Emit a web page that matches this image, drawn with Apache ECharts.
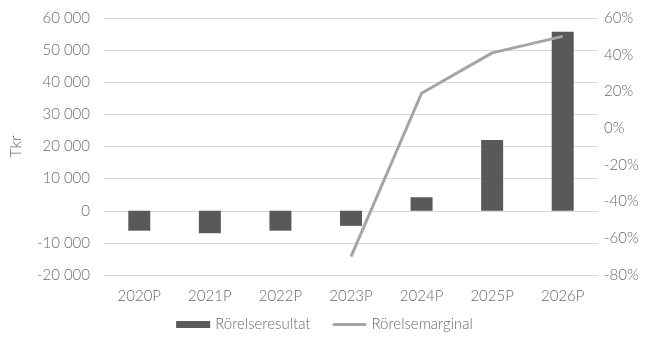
<!DOCTYPE html>
<html><head><meta charset="utf-8">
<script src="https://cdn.jsdelivr.net/npm/echarts@6/dist/echarts.min.js"></script>
<style>html,body{margin:0;padding:0;background:#fff}#c{width:649px;height:340px}</style>
</head><body><div id="c"></div>
<script>
const categories = ['2020P','2021P','2022P','2023P','2024P','2025P','2026P'];
const resultat = [-6200, -7000, -6200, -4700, 4200, 22000, 55700];
const marginal = [null, null, null, -70, 19, 41, 50];
const leftTicks = [-20000, 60000, 10000];
const rightTicks = [-80, 60, 20];

const fmt = v => { const s = Math.abs(v).toString().replace(/\B(?=(\d{3})+(?!\d))/g, ' '); return (v < 0 ? '-' : '') + s; };
const txt = '#6a6a6a', font = 'Lato', fw = 300;
const chart = echarts.init(document.getElementById('c'));
chart.setOption({
  animation: false,
  textStyle: { fontFamily: font },
  grid: { left: 104, right: 51, top: 18, bottom: 65 },
  legend: {
    bottom: 3, itemGap: 22, itemWidth: 34, itemHeight: 7,
    textStyle: { color: txt, fontSize: 15, fontFamily: font, fontWeight: fw },
    data: [
      { name: 'Rörelseresultat', icon: 'rect' },
      { name: 'Rörelsemarginal', icon: 'path://M1.5,0 L32.5,0 A1.5,1.5 0 0 1 32.5,3 L1.5,3 A1.5,1.5 0 0 1 1.5,0 Z' }
    ]
  },
  xAxis: {
    type: 'category', data: categories,
    axisLine: { show: false }, axisTick: { show: false },
    axisLabel: { color: txt, fontSize: 15, fontWeight: fw, margin: 14 }
  },
  yAxis: [{
    type: 'value', min: leftTicks[0], max: leftTicks[1], interval: leftTicks[2],
    name: 'Tkr', nameLocation: 'middle', nameGap: 80, nameRotate: 90,
    nameTextStyle: { color: txt, fontSize: 16, fontFamily: font, fontWeight: fw },
    axisLabel: { color: txt, fontSize: 15, fontWeight: fw, formatter: fmt, margin: 14 },
    splitLine: { lineStyle: { color: '#D9D9D9', width: 1 } },
    axisLine: { show: false }, axisTick: { show: false }
  }, {
    type: 'value', min: rightTicks[0], max: rightTicks[1], interval: rightTicks[2],
    axisLabel: { color: txt, fontSize: 15, fontWeight: fw, formatter: v => v + '%', margin: 6 },
    splitLine: { show: false }, axisLine: { show: false }, axisTick: { show: false }
  }],
  series: [{
    name: 'Rörelseresultat', type: 'bar', data: resultat, barWidth: 22,
    itemStyle: { color: '#595959' }
  }, {
    name: 'Rörelsemarginal', type: 'line', yAxisIndex: 1, data: marginal,
    symbol: 'none', lineStyle: { color: '#A5A5A5', width: 3 }, itemStyle: { color: '#A5A5A5' }
  }]
});
</script></body></html>
